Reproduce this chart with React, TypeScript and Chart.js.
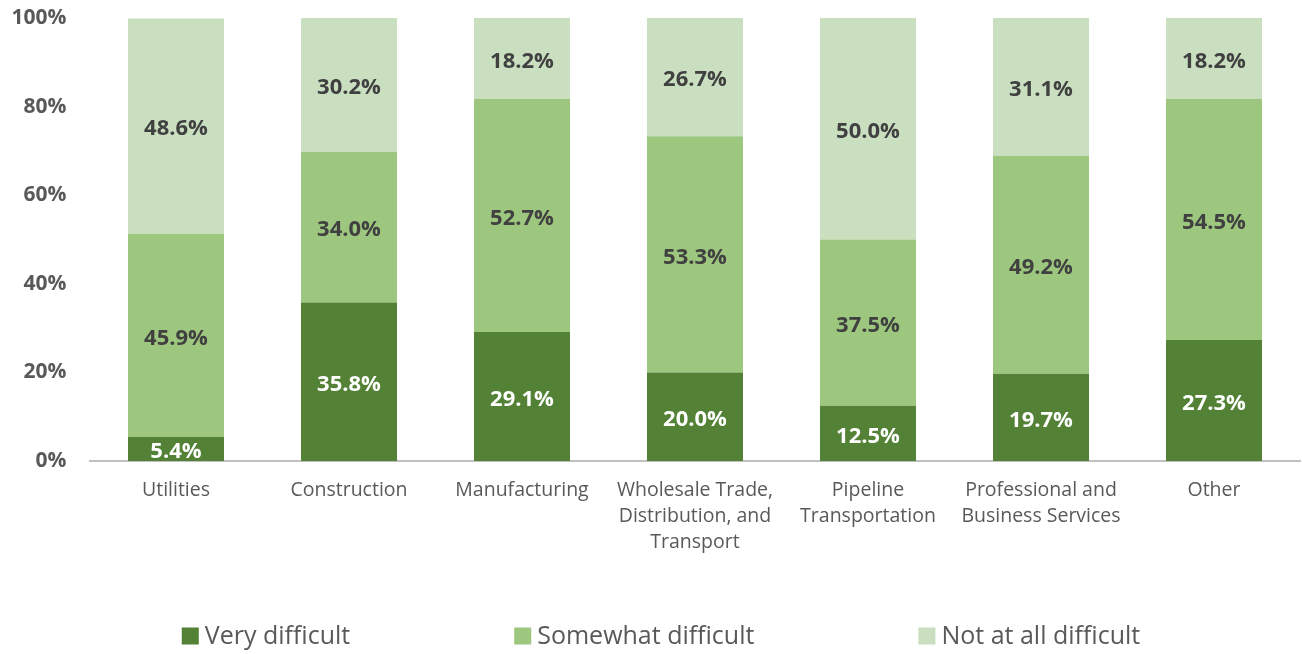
import React, { useEffect, useRef } from "react";
import { Chart, registerables } from "chart.js";

Chart.register(...registerables);

const categories: (string | string[])[] = [
  "Utilities",
  "Construction",
  "Manufacturing",
  ["Wholesale Trade,", "Distribution, and", "Transport"],
  ["Pipeline", "Transportation"],
  ["Professional and", "Business Services"],
  "Other",
];
const veryDifficult = [5.4, 35.8, 29.1, 20.0, 12.5, 19.7, 27.3];
const somewhatDifficult = [45.9, 34.0, 52.7, 53.3, 37.5, 49.2, 54.5];
const notAtAllDifficult = [48.6, 30.2, 18.2, 26.7, 50.0, 31.1, 18.2];
const seriesNames = ["Very difficult", "Somewhat difficult", "Not at all difficult"];
const yTicks = [0, 20, 40, 60, 80, 100];

const COLORS = ["#538135", "#9dc67e", "#c9dfc0"];
const LABEL_COLORS = ["#ffffff", "#404040", "#404040"];
const FONT = "'Open Sans', 'Noto Sans', sans-serif";

const segLabels = {
  id: "segLabels",
  afterDatasetsDraw(chart: any) {
    const ctx = chart.ctx;
    ctx.save();
    ctx.font = `bold 22px ${FONT}`;
    ctx.textAlign = "center";
    ctx.textBaseline = "middle";
    chart.data.datasets.forEach((ds: any, i: number) => {
      const meta = chart.getDatasetMeta(i);
      meta.data.forEach((bar: any, j: number) => {
        const p = bar.getProps(["x", "y", "base"], true);
        ctx.fillStyle = LABEL_COLORS[i];
        ctx.fillText(ds.data[j].toFixed(1) + "%", p.x, (p.y + p.base) / 2 + 3);
      });
    });
    ctx.restore();
  },
};

const customLegend = {
  id: "customLegend",
  afterDraw(chart: any) {
    const ctx = chart.ctx;
    ctx.save();
    ctx.font = `25px ${FONT}`;
    ctx.textBaseline = "middle";
    const box = 17;
    const gapText = 6;
    const gapItem = 164;
    const widths = chart.data.datasets.map((d: any) => ctx.measureText(d.label).width);
    const total =
      widths.reduce((a: number, w: number) => a + box + gapText + w, 0) +
      gapItem * (widths.length - 1);
    let x = 661 - total / 2;
    const y = 636;
    chart.data.datasets.forEach((d: any, i: number) => {
      ctx.fillStyle = d.backgroundColor;
      ctx.fillRect(x, y - box / 2, box, box);
      ctx.fillStyle = "#595959";
      ctx.fillText(d.label, x + box + gapText, y + 1);
      x += box + gapText + widths[i] + gapItem;
    });
    ctx.restore();
  },
};

export default function App() {
  const ref = useRef<HTMLCanvasElement | null>(null);
  useEffect(() => {
    document.body.style.margin = "0";
    if (!ref.current) return;
    const chart = new Chart(ref.current, {
      type: "bar",
      data: {
        labels: categories as any,
        datasets: [veryDifficult, somewhatDifficult, notAtAllDifficult].map((d, i) => ({
          label: seriesNames[i],
          data: d,
          backgroundColor: COLORS[i],
          borderWidth: 0,
          categoryPercentage: 1,
          barPercentage: 0.555,
        })),
      },
      options: {
        animation: false,
        responsive: true,
        maintainAspectRatio: false,
        layout: { padding: { top: 18, right: 1.5, left: 0, bottom: 0 } },
        plugins: { legend: { display: false }, tooltip: { enabled: false } },
        scales: {
          x: {
            stacked: true,
            grid: { display: false, drawTicks: false },
            border: { display: true, color: "#c0c0c0", width: 2 },
            ticks: {
              color: "#595959",
              font: { family: FONT, size: 19.5, lineHeight: 1.34 },
              padding: 16,
              maxRotation: 0,
              minRotation: 0,
              autoSkip: false,
            },
            afterFit: (s: any) => {
              s.height = 193;
            },
          },
          y: {
            stacked: true,
            min: 0,
            max: 100,
            afterBuildTicks: (s: any) => {
              s.ticks = yTicks.map((v) => ({ value: v }));
            },
            grid: { display: false, drawTicks: false },
            border: { display: false },
            ticks: {
              color: "#595959",
              font: { family: FONT, size: 21, weight: "bold" },
              padding: 23,
              callback: (v: any) => v + "%",
            },
            afterFit: (s: any) => {
              s.width = 89.5;
              s.paddingTop = 0;
              s.paddingBottom = 0;
            },
          },
        },
      },
      plugins: [segLabels, customLegend],
    });
    return () => chart.destroy();
  }, []);
  return (
    <div style={{ width: 1302, height: 654, position: "relative" }}>
      <canvas ref={ref} />
    </div>
  );
}
